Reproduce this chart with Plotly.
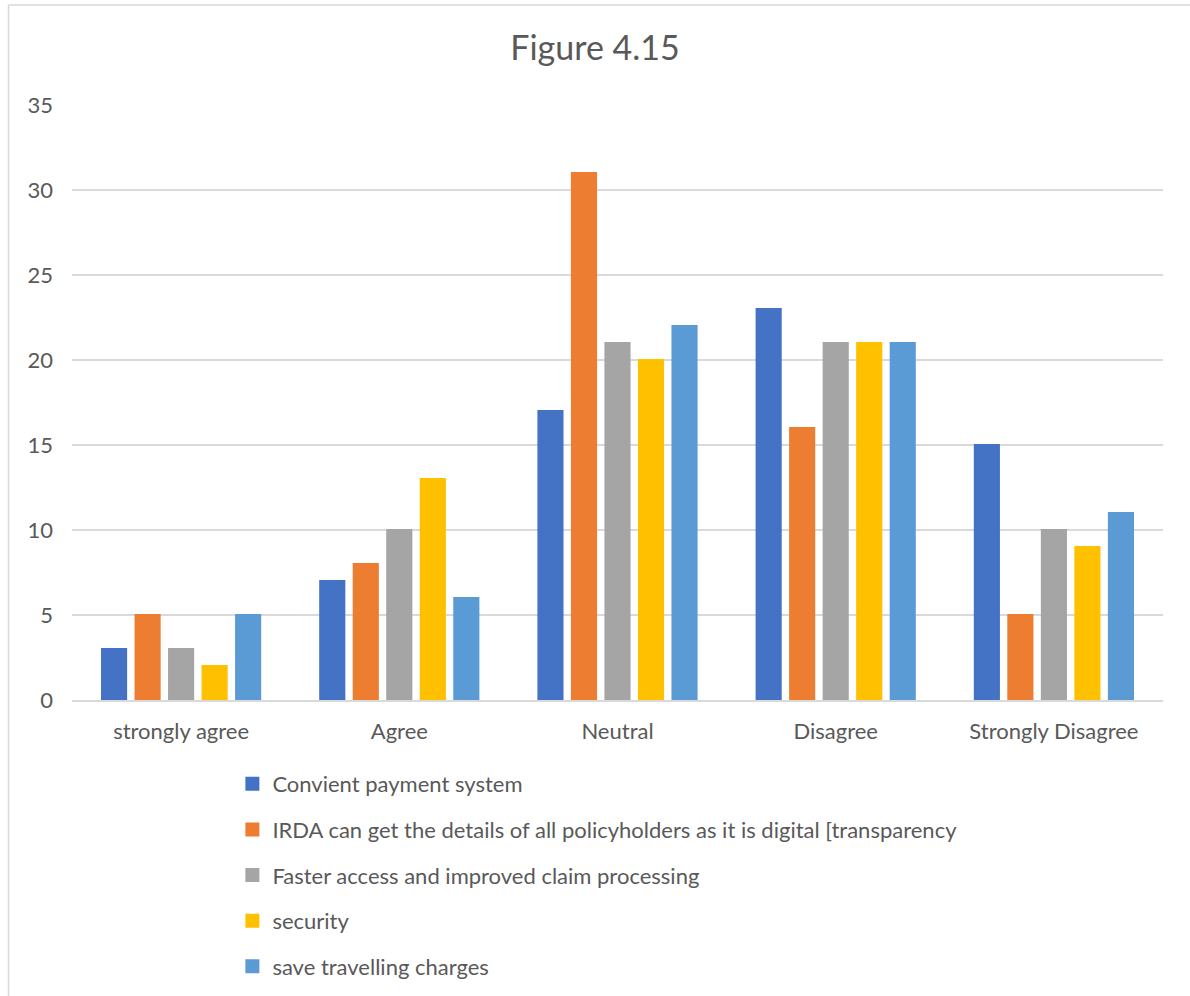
import plotly.graph_objects as go

# Survey responses per agreement level
categories = ["strongly agree", "Agree", "Neutral", "Disagree", "Strongly Disagree"]

series_names = [
    "Convient payment system",
    "IRDA can get the details of all policyholders as it is digital [transparency",
    "Faster access and improved claim processing",
    "security",
    "save travelling charges",
]

convenient_payment = [3, 7, 17, 23, 15]
irda_transparency = [5, 8, 31, 16, 5]
faster_access = [3, 10, 21, 21, 10]
security = [2, 13, 20, 21, 9]
save_travelling = [5, 6, 22, 21, 11]

y_ticks = [0, 5, 10, 15, 20, 25, 30, 35]

series_values = [convenient_payment, irda_transparency, faster_access, security, save_travelling]
colors = ["#4472C4", "#ED7D31", "#A5A5A5", "#FFC000", "#5B9BD5"]

FONT = "Lato"
TEXT = "#595959"
GRID = "#D9D9D9"

fig = go.Figure()
for i, (name, vals, col) in enumerate(zip(series_names, series_values, colors)):
    fig.add_trace(go.Bar(
        name=name,
        x=categories,
        y=vals,
        # same-colour outline also enlarges the legend swatch
        marker=dict(color=col, line=dict(width=2, color=col)),
        legendgroup=f"g{i}",
    ))

fig.update_layout(
    width=1190,
    height=996,
    paper_bgcolor="white",
    plot_bgcolor="white",
    margin=dict(l=72, r=27, t=105, b=296, autoexpand=False),
    barmode="group",
    bargap=0.232,
    bargroupgap=0.28,
    font=dict(family=FONT, color=TEXT, size=22),
    title=dict(
        text="Figure 4.15",
        x=0.5, xanchor="center",
        y=0.952, yanchor="middle",
        font=dict(family=FONT, size=34, color=TEXT),
    ),
    showlegend=True,
    legend=dict(
        orientation="v",
        x=0.147, xanchor="left",
        y=-0.106, yanchor="top",
        font=dict(family=FONT, size=22, color=TEXT),
        tracegroupgap=14,
        bgcolor="rgba(0,0,0,0)",
    ),
    shapes=[
        # chart frame
        dict(type="line", xref="paper", yref="paper",
             x0=-0.0582, x1=-0.0582, y0=1.168, y1=-0.6,
             line=dict(color=GRID, width=1.5)),
        dict(type="line", xref="paper", yref="paper",
             x0=-0.0582, x1=1.1, y0=1.168, y1=1.168,
             line=dict(color=GRID, width=1.5)),
    ],
)

fig.update_yaxes(
    range=[0, 35],
    tickvals=y_ticks,
    showgrid=True, gridcolor=GRID, gridwidth=1.5,
    zeroline=False,
    showline=False,
    ticks="",
    ticklabelstandoff=18,
    tickfont=dict(family=FONT, size=22, color=TEXT),
)
fig.update_xaxes(
    showline=True, linecolor=GRID, linewidth=1.5,
    ticks="",
    ticklabelstandoff=11,
    tickfont=dict(family=FONT, size=22, color=TEXT),
)

fig.write_html("out.html")
